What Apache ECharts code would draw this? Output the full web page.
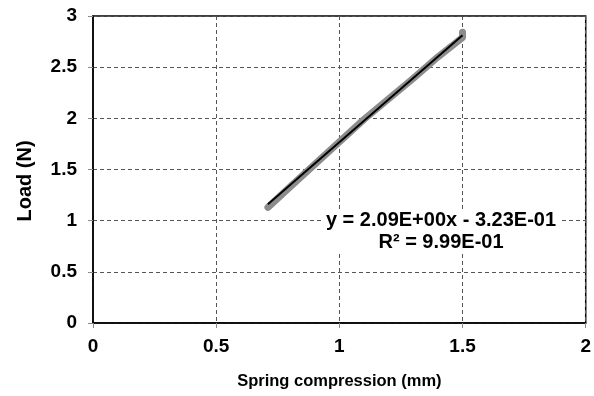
<!DOCTYPE html>
<html>
<head>
<meta charset="utf-8">
<script src="https://cdn.jsdelivr.net/npm/echarts@6/dist/echarts.min.js"></script>
<style>
  html, body { margin: 0; padding: 0; background: #fff; }
  #chart { width: 594px; height: 396px; }
</style>
</head>
<body>
<div id="chart"></div>
<script>
// measured data (compression in mm, load in N)
var compression = [0.71, 0.80, 0.90, 1.00, 1.10, 1.20, 1.30, 1.40, 1.50, 1.50];
var load = [1.13, 1.33, 1.55, 1.77, 1.99, 2.19, 2.39, 2.60, 2.79, 2.84];

// linear trendline from the fitted equation
var slope = 2.09;
var intercept = -0.323;
var fitX = [0.71, 1.5];

var xTicks = [0, 0.5, 1, 1.5, 2];
var yTicks = [0, 0.5, 1, 1.5, 2, 2.5, 3];

var chart = echarts.init(document.getElementById('chart'));

var font = 'Liberation Sans, Arial, sans-serif';

var option = {
    animation: false,
    backgroundColor: '#fff',
    grid: { left: 93, right: 8, top: 16, bottom: 73, show: true, borderColor: '#000', borderWidth: 1.5 },
    xAxis: {
        type: 'value', min: 0, max: 2, interval: 0.5,
        name: 'Spring compression (mm)', nameLocation: 'middle', nameGap: 50,
        nameTextStyle: { fontFamily: font, fontWeight: 'bold', fontSize: 16.5, color: '#000' },
        axisLine: { onZero: false, lineStyle: { color: '#000', width: 1.5 } },
        axisTick: { show: true, length: 5, lineStyle: { color: '#888' } },
        axisLabel: { fontFamily: font, fontWeight: 'bold', fontSize: 19, color: '#000', margin: 14,
            formatter: function (v) { return xTicks.indexOf(v) >= 0 ? String(v) : ''; } },
        splitLine: { show: true, lineStyle: { type: [4, 3], color: '#555', width: 1 } }
    },
    yAxis: {
        type: 'value', min: 0, max: 3, interval: 0.5,
        axisLine: { show: true, onZero: false, lineStyle: { color: '#000', width: 1.5 } },
        axisTick: { show: true, length: 5, lineStyle: { color: '#888' } },
        axisLabel: { fontFamily: font, fontWeight: 'bold', fontSize: 19, color: '#000', margin: 16,
            formatter: function (v) { return yTicks.indexOf(v) >= 0 ? String(v) : ''; } },
        splitLine: { show: true, lineStyle: { type: [4, 3], color: '#555', width: 1 } }
    },
    series: [
        {
            name: 'data', type: 'line',
            data: compression.map(function (x, i) { return [x, load[i]]; }),
            symbol: 'none',
            lineStyle: { color: '#8c8c8c', width: 7, cap: 'round', join: 'round' }
        },
        {
            name: 'fit', type: 'line',
            data: fitX.map(function (x) { return [x, slope * x + intercept]; }),
            symbol: 'none',
            lineStyle: { color: '#000', width: 2 }
        }
    ],
    graphic: [
        {
            // y axis title, placed a little below the axis middle like the original
            type: 'text', x: 25, y: 181, rotation: Math.PI / 2,
            style: {
                text: 'Load (N)', align: 'center', verticalAlign: 'middle',
                fontFamily: font, fontWeight: 'bold', fontSize: 20, fill: '#000'
            }
        },
        {
            type: 'text', x: 441, y: 209, z: 100,
            style: {
                text: 'y = 2.09E+00x - 3.23E-01\nR² = 9.99E-01',
                align: 'center',
                fontFamily: font, fontWeight: 'bold', fontSize: 20, fill: '#000',
                lineHeight: 22, backgroundColor: '#fff', padding: [0, 3, 0, 3]
            }
        }
    ]
};

chart.setOption(option);
</script>
</body>
</html>
